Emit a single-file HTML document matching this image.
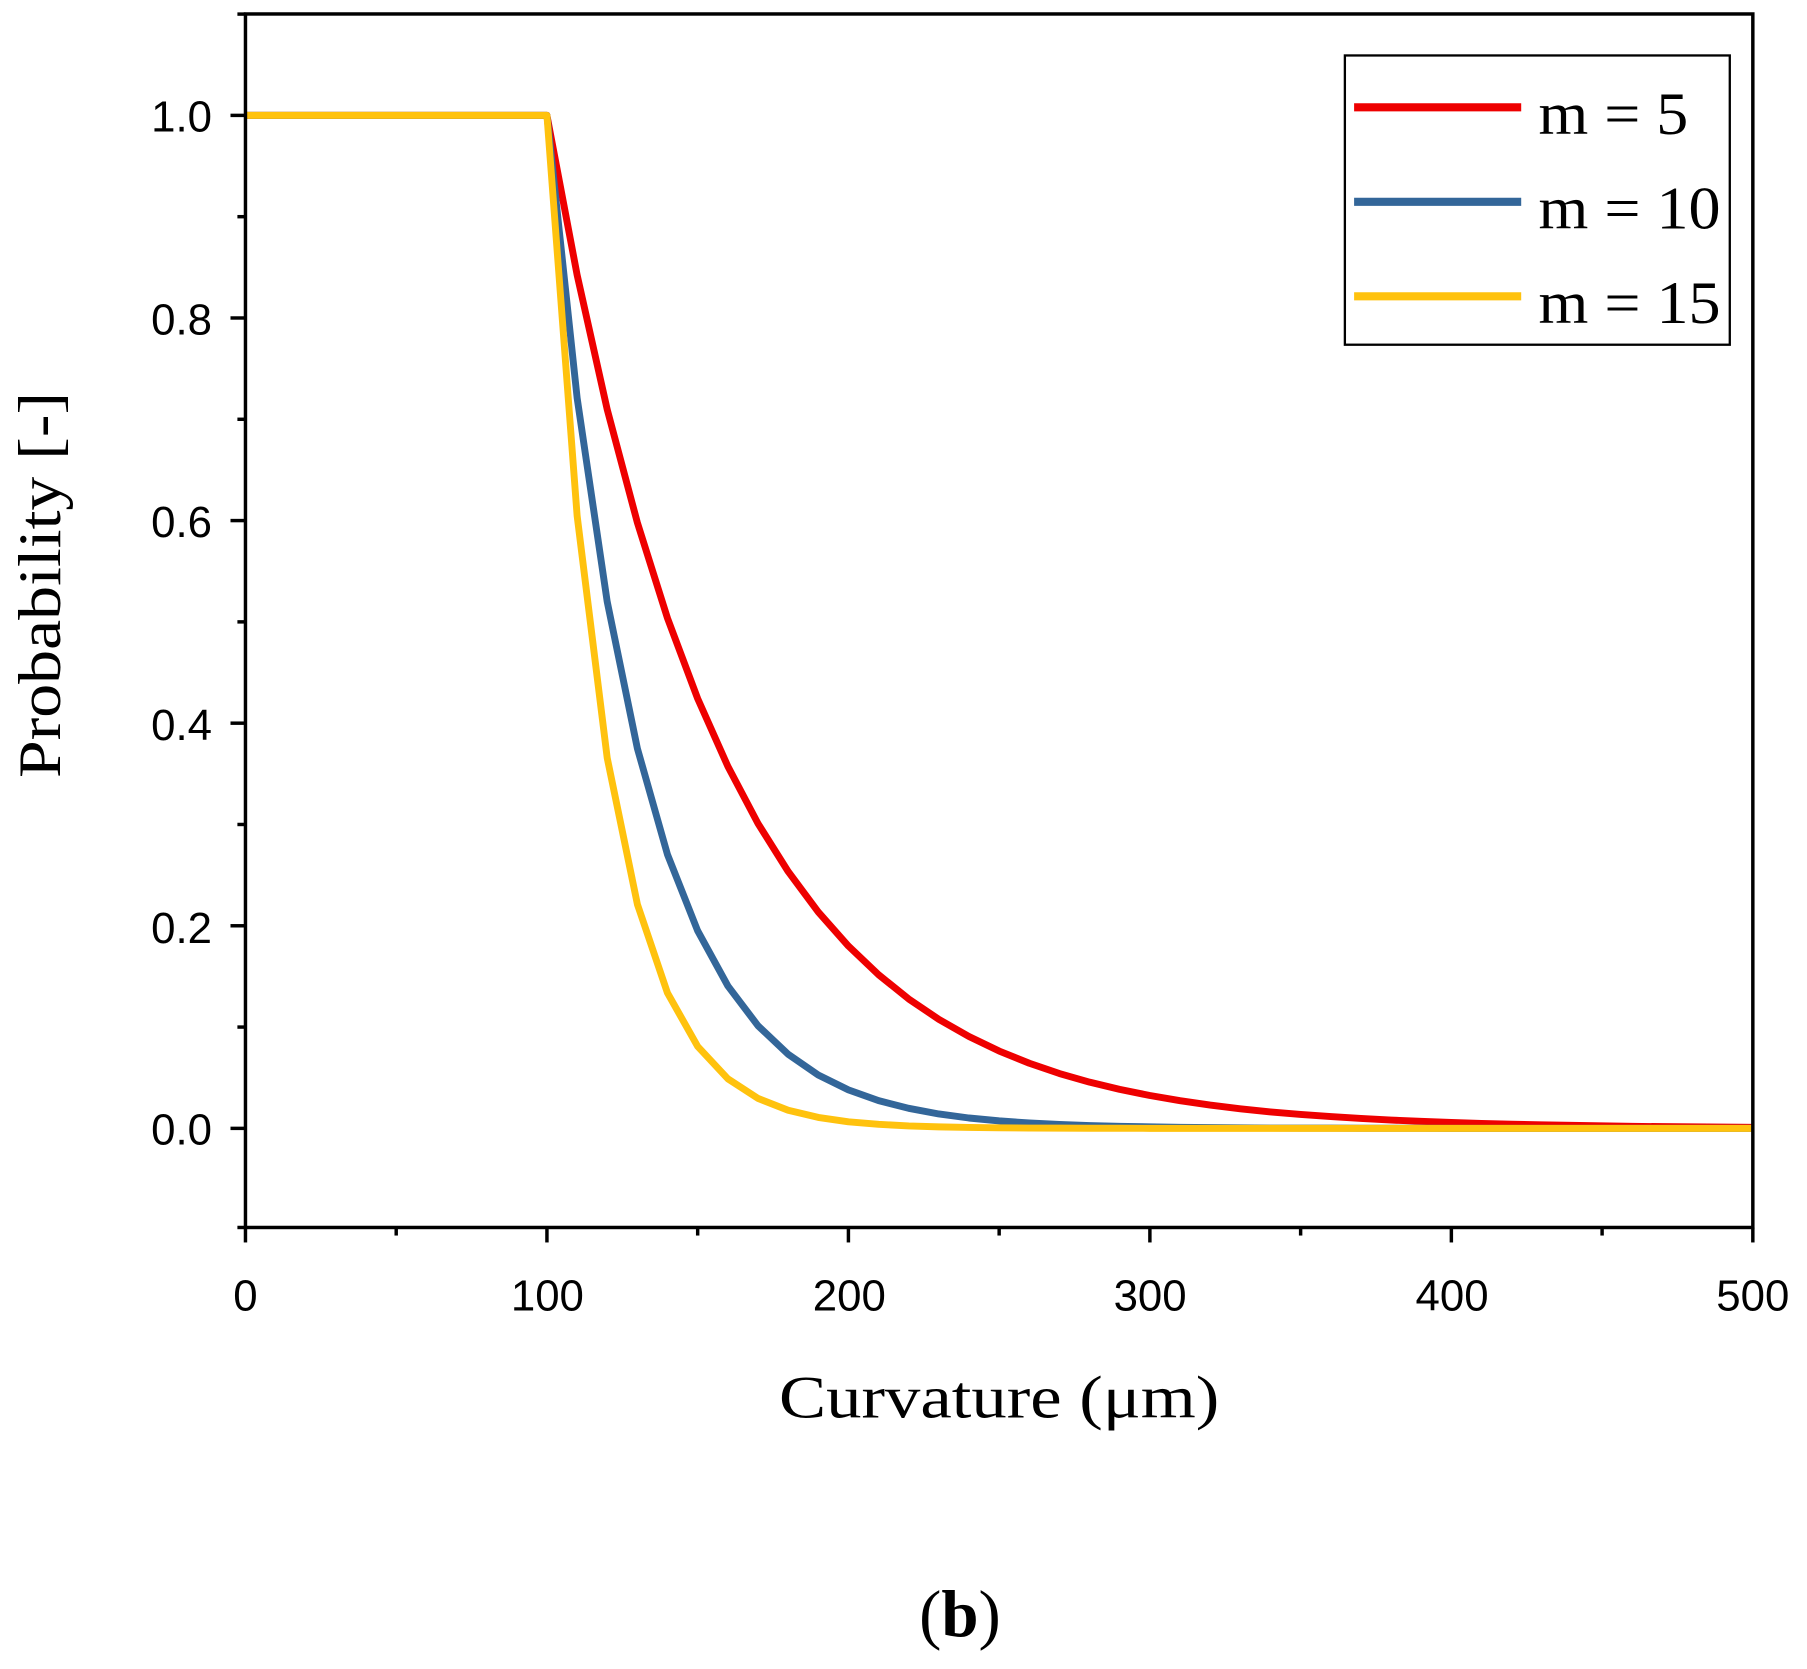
<!DOCTYPE html>
<html><head><meta charset="utf-8"><style>html,body{margin:0;padding:0;background:#fff}svg{display:block}</style></head>
<body>
<svg id="s" width="1807" height="1669" viewBox="0 0 1568 1448" xmlns="http://www.w3.org/2000/svg">
<rect width="1568" height="1448" fill="#fff"/>
<g id="curves" fill="none" stroke-width="6" stroke-linejoin="round"></g>
<rect x="213" y="12" width="1308" height="1053" fill="none" stroke="#000" stroke-width="3"/>
<g stroke="#000" stroke-width="3">
<line x1="213" y1="1065" x2="213" y2="1078"/><line x1="343.8" y1="1065" x2="343.8" y2="1072"/>
<line x1="474.6" y1="1065" x2="474.6" y2="1078"/><line x1="605.4" y1="1065" x2="605.4" y2="1072"/>
<line x1="736.2" y1="1065" x2="736.2" y2="1078"/><line x1="867" y1="1065" x2="867" y2="1072"/>
<line x1="997.8" y1="1065" x2="997.8" y2="1078"/><line x1="1128.6" y1="1065" x2="1128.6" y2="1072"/>
<line x1="1259.4" y1="1065" x2="1259.4" y2="1078"/><line x1="1390.2" y1="1065" x2="1390.2" y2="1072"/>
<line x1="1521" y1="1065" x2="1521" y2="1078"/>
<line x1="213" y1="1065" x2="206" y2="1065"/><line x1="213" y1="979" x2="200" y2="979"/>
<line x1="213" y1="891.1" x2="206" y2="891.1"/><line x1="213" y1="803.2" x2="200" y2="803.2"/>
<line x1="213" y1="715.3" x2="206" y2="715.3"/><line x1="213" y1="627.4" x2="200" y2="627.4"/>
<line x1="213" y1="539.5" x2="206" y2="539.5"/><line x1="213" y1="451.6" x2="200" y2="451.6"/>
<line x1="213" y1="363.7" x2="206" y2="363.7"/><line x1="213" y1="275.8" x2="200" y2="275.8"/>
<line x1="213" y1="187.9" x2="206" y2="187.9"/><line x1="213" y1="100" x2="200" y2="100"/>
<line x1="213" y1="12.1" x2="206" y2="12.1"/>
</g>
<g font-family="Liberation Sans, sans-serif" font-size="38" fill="#000">
<g text-anchor="end">
<text x="184" y="114">1.0</text><text x="184" y="290">0.8</text><text x="184" y="466">0.6</text>
<text x="184" y="642">0.4</text><text x="184" y="818">0.2</text><text x="184" y="993">0.0</text>
</g>
<g text-anchor="middle">
<text x="213" y="1137">0</text><text x="475" y="1137">100</text><text x="737" y="1137">200</text>
<text x="998" y="1137">300</text><text x="1260" y="1137">400</text><text x="1521" y="1137">500</text>
</g>
</g>
<g font-family="Liberation Serif, serif" fill="#000">
<text x="676" y="1230" font-size="52" textLength="382" lengthAdjust="spacingAndGlyphs">Curvature (μm)</text>
<text transform="translate(52,675) rotate(-90)" font-size="52" textLength="335" lengthAdjust="spacingAndGlyphs">Probability [-]</text>
<text x="833" y="1420" font-size="58" text-anchor="middle">(<tspan font-weight="bold">b</tspan>)</text>
<rect x="1167" y="48" width="334" height="251" fill="#fff" stroke="#000" stroke-width="2"/>
<line x1="1175" y1="93" x2="1320" y2="93" stroke="#EE0000" stroke-width="7"/>
<line x1="1175" y1="175" x2="1320" y2="175" stroke="#336699" stroke-width="7"/>
<line x1="1175" y1="257" x2="1320" y2="257" stroke="#FFC20E" stroke-width="7"/>
<text x="1335" y="116" font-size="52" textLength="130" lengthAdjust="spacingAndGlyphs">m = 5</text>
<text x="1335" y="198" font-size="52" textLength="158" lengthAdjust="spacingAndGlyphs">m = 10</text>
<text x="1335" y="280" font-size="52" textLength="158" lengthAdjust="spacingAndGlyphs">m = 15</text>
</g>
<script>
(function(){
var X=function(x){return 213+x*(1308/500)},Y=function(p){return 979-p*879};
var g=document.getElementById('curves');
[[0.01715,'#EE0000'],[0.0327,'#336699'],[0.0503,'#FFC20E']].forEach(function(c){
var pts=[];for(var x=0;x<=500;x+=10){var p=x<=100?1:Math.exp(-c[0]*(x-100));pts.push(X(x).toFixed(1)+','+Y(p).toFixed(1));}
var pl=document.createElementNS('http://www.w3.org/2000/svg','polyline');
pl.setAttribute('points',pts.join(' '));pl.setAttribute('stroke',c[1]);g.appendChild(pl);});
})();
</script>
</svg>
</body></html>
